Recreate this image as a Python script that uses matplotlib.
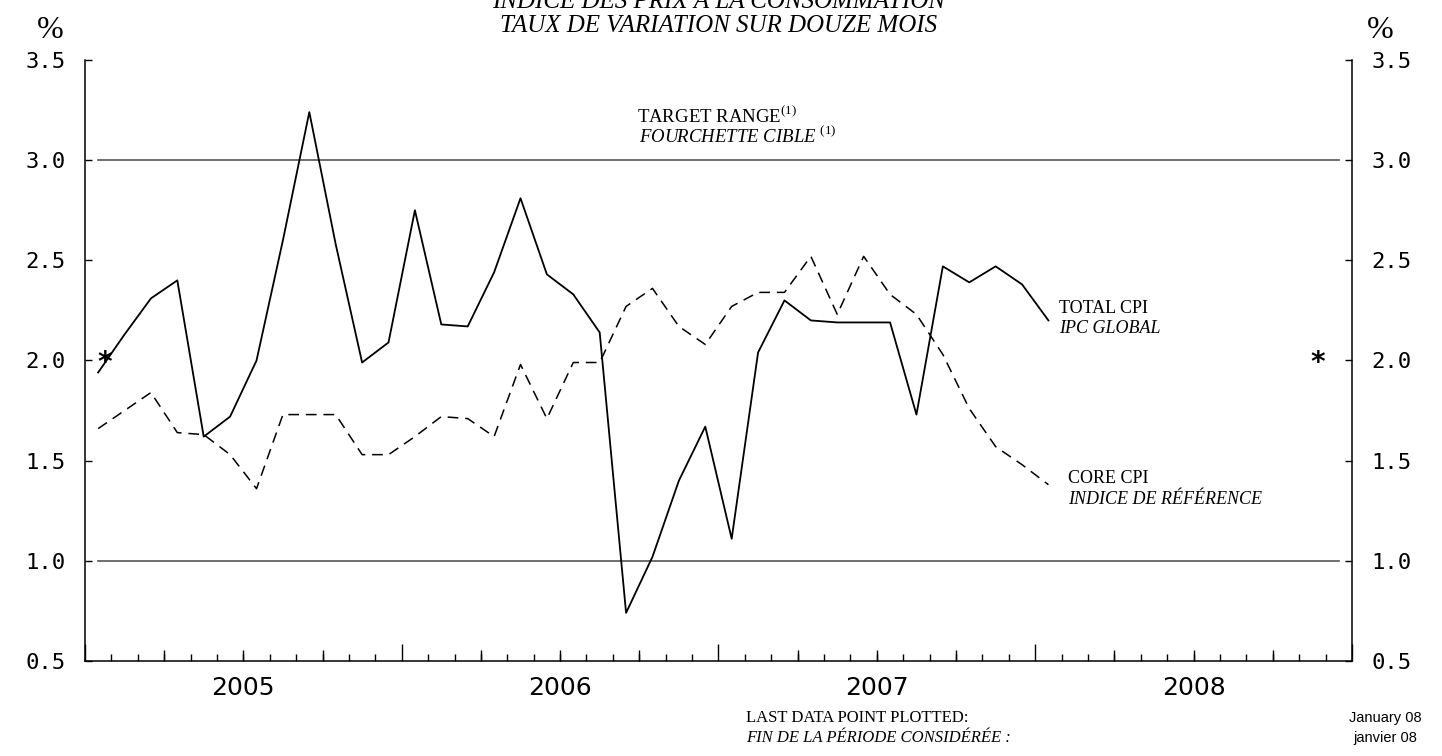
import numpy as np
import matplotlib.pyplot as plt
from matplotlib.ticker import FixedLocator, NullFormatter, FixedFormatter

# monthly data, Jan 2005 .. Jan 2008 (12-month % change)
month_idx = np.arange(37) + 0.5   # plotted at mid-month, 0 = 1 Jan 2005
total_cpi = [1.94, 2.13, 2.31, 2.40, 1.62, 1.72, 2.00, 2.60, 3.24, 2.58, 1.99, 2.09,
             2.75, 2.18, 2.17, 2.44, 2.81, 2.43, 2.33, 2.14, 0.74, 1.02, 1.40, 1.67,
             1.11, 2.04, 2.30, 2.20, 2.19, 2.19, 2.19, 1.73, 2.47, 2.39, 2.47, 2.38,
             2.20]
core_cpi = [1.66, 1.75, 1.84, 1.64, 1.63, 1.53, 1.36, 1.73, 1.73, 1.73, 1.53, 1.53,
            1.62, 1.72, 1.71, 1.62, 1.98, 1.71, 1.99, 1.99, 2.27, 2.36, 2.17, 2.08,
            2.27, 2.34, 2.34, 2.52, 2.23, 2.52, 2.33, 2.23, 2.03, 1.76, 1.57, 1.48,
            1.38]
target_band = [1.0, 3.0]
target_mid = 2.0
year_labels = ['2005', '2006', '2007', '2008']
y_ticks = [0.5, 1.0, 1.5, 2.0, 2.5, 3.0, 3.5]

serif = 'Liberation Serif'
mono = 'DejaVu Sans Mono'
plt.rcParams['mathtext.fontset'] = 'custom'
plt.rcParams['mathtext.rm'] = serif

fig = plt.figure(figsize=(14.42, 7.56), dpi=100)
ax = fig.add_axes([0.0589, 0.1257, 0.8787, 0.7949])

# target range lines
for lvl in target_band:
    ax.plot([0.5, 47.5], [lvl, lvl], color='#555555', lw=1.2)

ax.plot(month_idx, total_cpi, color='black', lw=1.3)
ax.plot(month_idx, core_cpi, color='black', lw=1.1, dashes=(7, 4.5))

# 2% midpoint markers
ax.text(0.75, target_mid - 0.01, '*', fontsize=20, ha='center', va='center', family=mono,
        fontweight='bold')
ax.text(46.7, target_mid - 0.01, '*', fontsize=20, ha='center', va='center', family=mono,
        fontweight='bold')

ax.set_xlim(0, 48)
ax.set_ylim(0.5, 3.5)
ax.spines['top'].set_visible(False)
for s in ['left', 'right', 'bottom']:
    ax.spines[s].set_linewidth(1.1)

# y axis, labels on both sides
ax.set_yticks(y_ticks)
ax.set_yticklabels([f'{v:.1f}' for v in y_ticks], family=mono, fontsize=16)
ax.tick_params(axis='y', direction='in', length=5, width=1, left=True, right=True,
               labelleft=True, labelright=True, pad=14)

# x axis: year ticks, month ticks
ax.xaxis.set_major_locator(FixedLocator(np.arange(0, 49, 12)))
ax.xaxis.set_major_formatter(NullFormatter())
ax.xaxis.set_minor_locator(FixedLocator(np.arange(0, 49, 1)))
ax.tick_params(axis='x', which='major', direction='in', length=12, width=1)
ax.tick_params(axis='x', which='minor', direction='in', length=5, width=1)

# quarter ticks + year labels on a second bottom axis
sec = ax.secondary_xaxis('bottom')
sec.spines['bottom'].set_visible(False)
sec.xaxis.remove_overlapping_locs = False
sec.xaxis.set_major_locator(FixedLocator(np.arange(6, 48, 12)))
sec.xaxis.set_major_formatter(FixedFormatter(year_labels))
sec.xaxis.set_minor_locator(FixedLocator([q for q in range(3, 48, 3) if q % 12]))
sec.tick_params(axis='x', which='major', length=0, pad=11, labelsize=18)
sec.tick_params(axis='x', which='minor', direction='in', length=8, width=1)

# titles
fig.text(0.498, 1 - 13 / 756, 'INDICE DES PRIX À LA CONSOMMATION', ha='center',
         va='bottom', family=serif, style='italic', fontsize=18)
fig.text(0.498, 1 - 26 / 756, 'TAUX DE VARIATION SUR DOUZE MOIS', ha='center',
         va='center', family=serif, style='italic', fontsize=18)
fig.text(50 / 1442, 1 - 30 / 756, '%', ha='center', va='center', family=serif, fontsize=23)
fig.text(1380 / 1442, 1 - 30 / 756, '%', ha='center', va='center', family=serif, fontsize=23)

# annotations
ax.text(20.9, 3.22, 'TARGET RANGE$^{\\mathrm{(1)}}$', family=serif, fontsize=13.5,
        va='center')
ax.text(20.98, 3.12, 'FOURCHETTE CIBLE $^{\\mathrm{(1)}}$', family=serif, fontsize=13.5,
        style='italic', va='center')
ax.text(36.9, 2.26, 'TOTAL CPI', family=serif, fontsize=13, va='center')
ax.text(36.9, 2.16, 'IPC GLOBAL', family=serif, fontsize=13, style='italic', va='center')
ax.text(37.25, 1.41, 'CORE CPI', family=serif, fontsize=13, va='center')
ax.text(37.25, 1.305, 'INDICE DE RÉFÉRENCE', family=serif, fontsize=13, style='italic',
        va='center')

# footer
fig.text(746 / 1442, 1 - 718 / 756, 'LAST DATA POINT PLOTTED:', family=serif, fontsize=12,
         va='center')
fig.text(746 / 1442, 1 - 738 / 756, 'FIN DE LA PÉRIODE CONSIDÉRÉE :', family=serif,
         fontsize=12, style='italic', va='center')
fig.text(1385 / 1442, 1 - 718 / 756, 'January 08', family='Liberation Sans', fontsize=10.5,
         ha='center', va='center')
fig.text(1385 / 1442, 1 - 738 / 756, 'janvier 08', family='Liberation Sans', fontsize=10.5,
         ha='center', va='center')

fig.savefig('out.png', dpi=100)
